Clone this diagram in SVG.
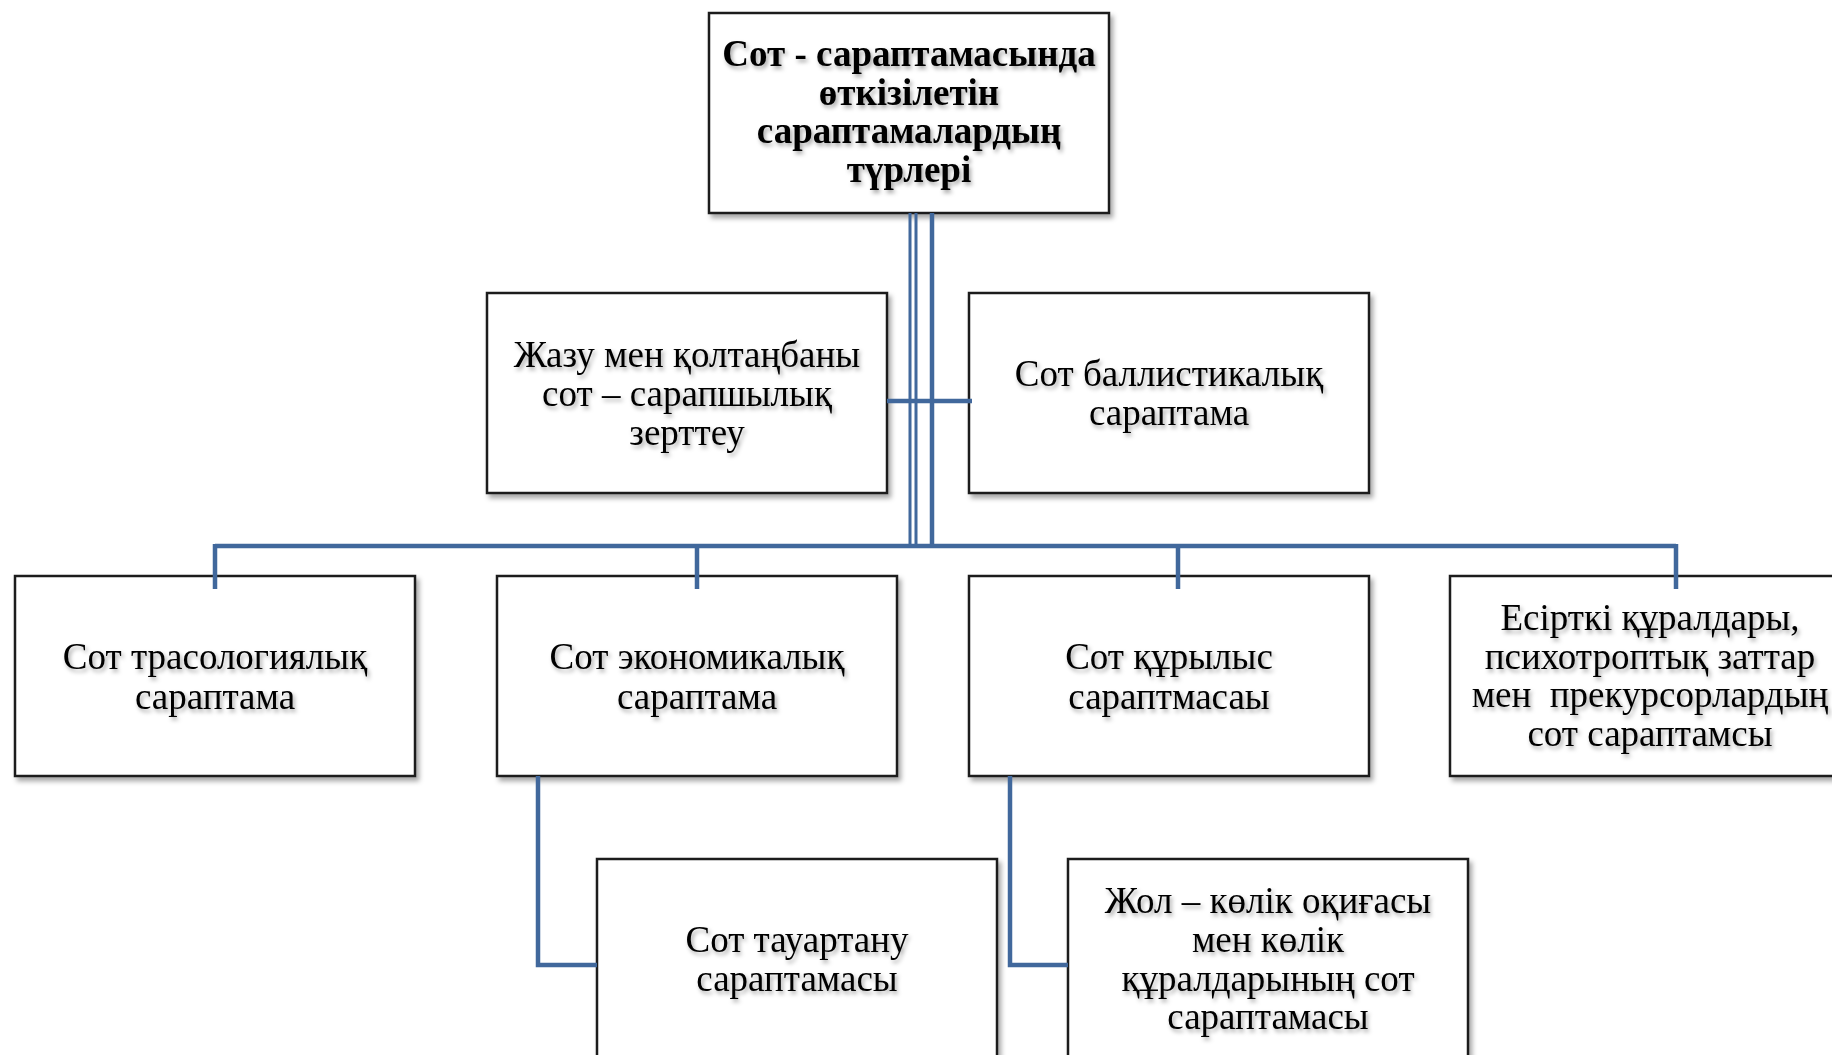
<svg xmlns="http://www.w3.org/2000/svg" width="1832" height="1055" viewBox="0 0 1832 1055">
<defs>
<style>
.box{fill:#fff;stroke:#1e1e1e;stroke-width:2.5;filter:url(#bs)}
.t{font-family:"Liberation Serif","Times New Roman",serif;font-size:37px;fill:#000;text-anchor:middle;filter:url(#ts)}
.b{font-weight:bold}
.c{fill:none;stroke:#41689C;stroke-width:4.5}
</style>
<filter id="bs" x="-5%" y="-5%" width="115%" height="120%">
<feDropShadow dx="3" dy="4" stdDeviation="2.5" flood-color="#000" flood-opacity="0.35"/>
</filter>
<filter id="ts" x="-5%" y="-20%" width="115%" height="160%">
<feDropShadow dx="2" dy="3" stdDeviation="2" flood-color="#000" flood-opacity="0.35"/>
</filter>
</defs>
<rect width="1832" height="1055" fill="#fff"/>

<g id="n-root">
<rect class="box" x="709" y="13" width="400" height="200"/>
<text class="t b"><tspan x="909" y="66">Сот - сараптамасында</tspan><tspan x="909" y="105">өткізілетін</tspan><tspan x="909" y="143">сараптамалардың</tspan><tspan x="909" y="182">түрлері</tspan></text>
</g>
<g id="n-zhazu">
<rect class="box" x="487" y="293" width="400" height="200"/>
<text class="t"><tspan x="687" y="367">Жазу мен қолтаңбаны</tspan><tspan x="687" y="406">сот – сарапшылық</tspan><tspan x="687" y="445">зерттеу</tspan></text>
</g>
<g id="n-ballistic">
<rect class="box" x="969" y="293" width="400" height="200"/>
<text class="t"><tspan x="1169" y="386">Сот баллистикалық</tspan><tspan x="1169" y="425">сараптама</tspan></text>
</g>
<g id="n-traso">
<rect class="box" x="15" y="576" width="400" height="200"/>
<text class="t"><tspan x="215" y="669">Сот трасологиялық</tspan><tspan x="215" y="709">сараптама</tspan></text>
</g>
<g id="n-econ">
<rect class="box" x="497" y="576" width="400" height="200"/>
<text class="t"><tspan x="697" y="669">Сот экономикалық</tspan><tspan x="697" y="709">сараптама</tspan></text>
</g>
<g id="n-kurylys">
<rect class="box" x="969" y="576" width="400" height="200"/>
<text class="t"><tspan x="1169" y="669">Сот құрылыс</tspan><tspan x="1169" y="709">сараптмасаы</tspan></text>
</g>
<g id="n-esirtki">
<rect class="box" x="1450" y="576" width="400" height="200"/>
<text class="t"><tspan x="1650" y="630">Есірткі құралдары,</tspan><tspan x="1650" y="669">психотроптық заттар</tspan><tspan x="1650" y="707" xml:space="preserve">мен  прекурсорлардың</tspan><tspan x="1650" y="746">сот сараптамсы</tspan></text>
</g>
<g id="n-tauar">
<rect class="box" x="597" y="859" width="400" height="220"/>
<text class="t"><tspan x="797" y="952">Сот тауартану</tspan><tspan x="797" y="991">сараптамасы</tspan></text>
</g>
<g id="n-zhol">
<rect class="box" x="1068" y="859" width="400" height="220"/>
<text class="t"><tspan x="1268" y="913">Жол – көлік оқиғасы</tspan><tspan x="1268" y="952">мен көлік</tspan><tspan x="1268" y="991">құралдарының сот</tspan><tspan x="1268" y="1029">сараптамасы</tspan></text>
</g>

<g id="connectors">
<path class="c" d="M910 213V546" style="stroke-width:3"/>
<path class="c" d="M916 213V546" style="stroke-width:3"/>
<path class="c" d="M932 213V546"/>
<path class="c" d="M887 401H972"/>
<path class="c" d="M215 546H1676"/>
<path class="c" d="M215 544V589M697 544V589M1178 544V589M1676 544V589"/>
<path class="c" d="M538 776V965H597"/>
<path class="c" d="M1010 776V965H1068"/>
</g>
</svg>
